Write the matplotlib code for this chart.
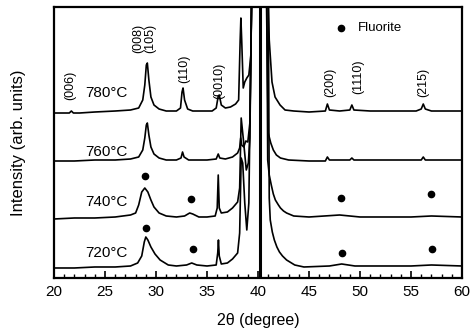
import numpy as np
import matplotlib
matplotlib.use('Agg')
import matplotlib.pyplot as plt
from matplotlib.ticker import MultipleLocator

plt.rcParams['font.family'] = ['Liberation Sans', 'DejaVu Sans']

# XRD patterns (2theta in degree, intensity in arb. units, stacked)
x_780 = [20.0, 21.0, 21.5, 21.7, 21.9, 22.5, 24.0, 26.0, 27.5, 28.3, 28.7, 28.9, 29.05, 29.15,
         29.3, 29.5, 29.8, 30.3, 31.0, 32.0, 32.4, 32.55, 32.65, 32.8, 33.1, 33.6, 34.5, 35.5,
         35.9, 36.1, 36.2, 36.4, 36.8, 37.3, 37.8, 38.1, 38.25, 38.32, 38.4, 38.55, 38.7, 38.9,
         39.1, 39.3, 39.4, 40.2, 40.95, 41.1, 41.37, 41.67, 42.16, 42.65, 43.5, 45.0, 46.6,
         46.8, 47.0, 48.0, 49.0, 49.2, 49.4, 51.0, 53.0, 55.5, 56.0, 56.2, 56.4, 57.0, 58.5, 60.0]
y_780 = [165, 165, 165, 167, 165, 165, 166, 167, 168, 170, 178, 193, 213, 215,
         198, 181, 173, 169, 167, 167, 170, 186, 190, 178, 169, 167, 167, 167,
         170, 182, 183, 173, 170, 171, 174, 178, 238, 260, 238, 190, 196, 200,
         203, 223, 300, 400, 300, 238, 196, 181, 173, 168, 167, 166, 167,
         174, 168, 167, 168, 173, 168, 167, 167, 167, 169, 174, 169, 167, 167, 167]

x_760 = [20.0, 22.0, 24.0, 26.0, 27.5, 28.3, 28.7, 28.9, 29.05, 29.15, 29.3, 29.5, 29.8, 30.3,
         31.0, 32.0, 32.45, 32.6, 32.75, 33.2, 35.0, 35.9, 36.1, 36.25, 36.8, 37.5, 38.0, 38.2,
         38.3, 38.4, 38.6, 38.8, 39.0, 39.2, 39.4, 40.2, 40.8, 41.0, 41.25, 41.5, 41.8, 42.2,
         43.0, 45.0, 46.6, 46.8, 47.0, 49.0, 49.2, 49.4, 53.0, 56.0, 56.2, 56.4, 60.0]
y_760 = [117, 117, 118, 118, 119, 121, 128, 140, 153, 155, 143, 131, 124, 120,
         118, 118, 120, 126, 121, 118, 118, 119, 124, 120, 119, 121, 125, 130,
         140, 133, 131, 137, 136, 155, 300, 400, 300, 145, 135, 128, 123, 120,
         118, 117, 117, 121, 118, 118, 120, 118, 118, 118, 121, 118, 118]

x_740 = [20.0, 22.0, 24.0, 26.0, 27.5, 28.0, 28.3, 28.6, 28.9, 29.2, 29.5, 29.8, 30.3, 31.0,
         32.0, 32.8, 33.3, 33.6, 34.2, 35.0, 35.8, 36.0, 36.1, 36.2, 36.4, 37.0, 37.5, 38.0,
         38.2, 38.35, 38.55, 38.85, 39.05, 39.2, 39.4, 40.2, 40.85, 40.95, 41.1, 41.3, 41.5,
         41.7, 42.0, 42.2, 42.5, 42.8, 43.5, 45.0, 48.0, 50.0, 55.0, 57.0, 60.0]
y_740 = [59, 60, 60, 61, 63, 65, 73, 86, 90, 86, 78, 71, 65, 62,
         61, 62, 65, 64, 61, 61, 62, 70, 103, 70, 65, 66, 70, 76,
         90, 160, 140, 108, 115, 140, 300, 400, 300, 118, 103, 93, 84,
         78, 73, 70, 67, 65, 62, 61, 63, 61, 61, 62, 61]

x_720 = [20.0, 22.0, 24.0, 26.0, 27.5, 28.2, 28.6, 28.85, 29.0, 29.2, 29.5, 29.9, 30.4, 31.2,
         32.0, 33.0, 33.5, 34.0, 35.0, 35.9, 36.05, 36.12, 36.2, 36.4, 37.0, 37.5, 38.0, 38.2,
         38.35, 38.5, 38.7, 38.9, 39.1, 39.4, 40.2, 41.0, 41.1, 41.2, 41.4, 41.6, 41.85, 42.1,
         42.4, 42.8, 43.6, 44.5, 47.0, 48.2, 49.5, 55.0, 57.0, 60.0]
y_720 = [10, 10, 11, 11, 12, 15, 22, 36, 41, 38, 31, 24, 18, 13,
         12, 13, 15, 13, 12, 13, 25, 38, 22, 14, 15, 19, 25, 45,
         120, 115, 75, 48, 75, 300, 400, 300, 80, 58, 46, 38, 31, 26,
         22, 18, 13, 11, 12, 14, 12, 12, 13, 12]

substrate_peak = 40.2

# fluorite reflections marked with dots
fl_740_x = [28.9, 33.4, 48.1, 57.0]
fl_740_y = [102, 79, 80, 84]
fl_720_x = [29.0, 33.6, 48.2, 57.1]
fl_720_y = [50, 29, 25, 29]

temps = ['780°C', '760°C', '740°C', '720°C']
temp_y = [185, 126, 76, 25]

hkl = ['(006)', '(008)', '(105)', '(110)', '(0010)', '(200)', '(1110)', '(215)']
hkl_x = [21.6, 28.3, 29.4, 32.8, 36.2, 47.1, 49.8, 56.2]
hkl_y = [193, 240, 240, 209, 197, 196, 201, 196]

fig = plt.figure(figsize=(4.75, 3.34), dpi=100)
ax = fig.add_axes([0.1137, 0.1677, 0.859, 0.8113])

for xs, ys in [(x_780, y_780), (x_760, y_760), (x_740, y_740), (x_720, y_720)]:
    ax.plot(xs, ys, color='black', lw=1.2)
ax.axvline(substrate_peak, color='black', lw=2.2)

ax.plot(fl_740_x, fl_740_y, 'o', color='black', ms=4.5)
ax.plot(fl_720_x, fl_720_y, 'o', color='black', ms=4.5)

for t, ty in zip(temps, temp_y):
    ax.text(23.1, ty, t, fontsize=11, ha='left', va='center')
for h, hx, hy in zip(hkl, hkl_x, hkl_y):
    ax.text(hx, hy, h, fontsize=9, rotation=90, ha='center', va='center')

ax.plot([48.1], [250], 'o', color='black', ms=4.5)
ax.text(49.8, 250, 'Fluorite', fontsize=9.5, ha='left', va='center')

ax.set_xlim(20, 60)
ax.set_ylim(0, 271)
ax.xaxis.set_major_locator(MultipleLocator(5))
ax.xaxis.set_minor_locator(MultipleLocator(1))
ax.tick_params(axis='x', which='major', direction='in', length=5, width=1.2, labelsize=11, pad=5)
ax.tick_params(axis='x', which='minor', direction='in', length=3, width=1.0)
ax.tick_params(axis='y', left=False, labelleft=False)
for s in ax.spines.values():
    s.set_linewidth(1.6)

ax.set_xlabel('2θ (degree)', fontsize=11.5, labelpad=10)
ax.set_ylabel('Intensity (arb. units)', fontsize=12, labelpad=20)

fig.savefig('out.png', dpi=100)
